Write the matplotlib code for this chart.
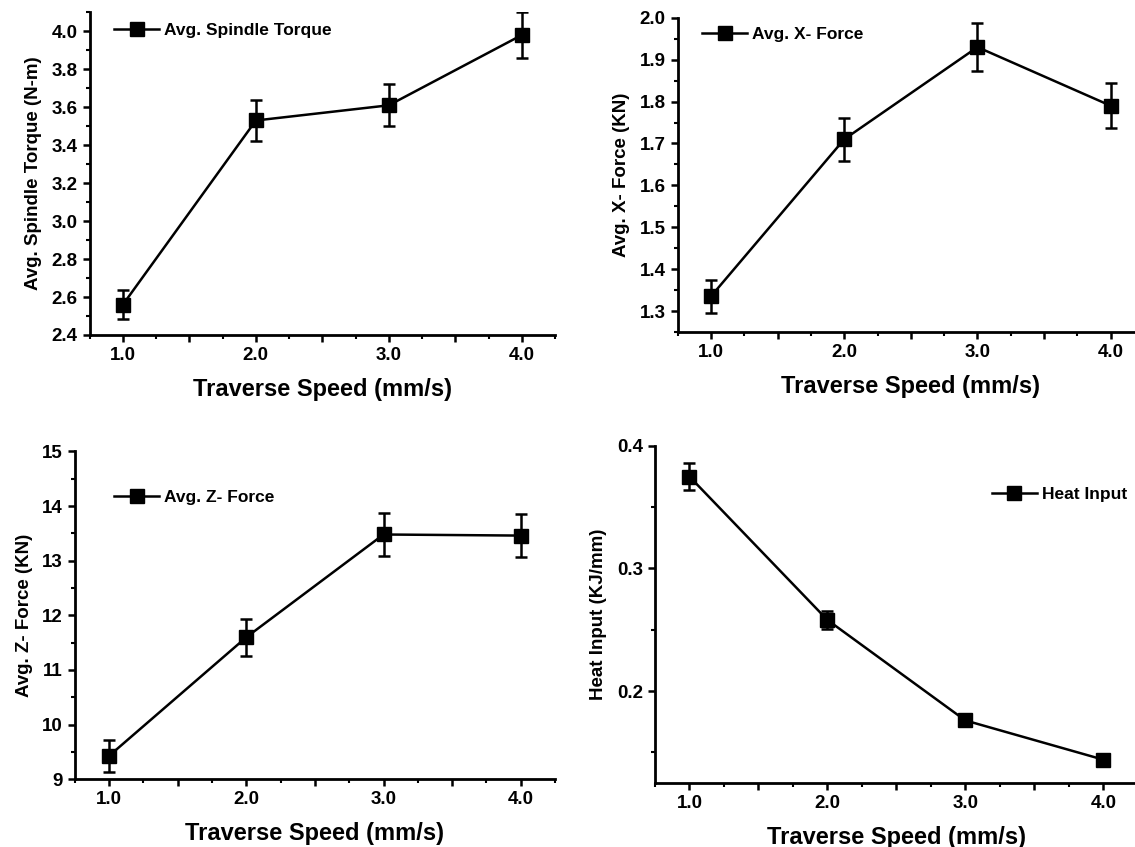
import numpy as np
import matplotlib
matplotlib.use("Agg")
import matplotlib.pyplot as plt
from matplotlib.ticker import MultipleLocator, FuncFormatter

plt.rcParams['font.family'] = ['Liberation Sans', 'DejaVu Sans']
plt.rcParams['font.weight'] = 'bold'

# traverse speed (mm/s)
speed = [1.0, 2.0, 3.0, 4.0]

torque = [2.56, 3.53, 3.61, 3.98]
torque_err = [0.078, 0.107, 0.11, 0.119]

xforce = [1.335, 1.71, 1.93, 1.79]
xforce_err = [0.039, 0.052, 0.057, 0.054]

zforce = [9.43, 11.6, 13.48, 13.46]
zforce_err = [0.29, 0.34, 0.40, 0.40]

heat = [0.375, 0.258, 0.176, 0.144]
heat_err = [0.0114, 0.0076, 0.003, 0.002]

fig = plt.figure(figsize=(11.35, 8.47), dpi=100)


def panel(rect, y, yerr, label, ylabel, ylim, ymajor, yfmt, legend_loc, legend_anchor):
    ax = fig.add_axes(rect)
    ax.errorbar(speed, y, yerr=yerr, color='black', lw=1.8, fmt='none',
                capsize=4.5, capthick=1.8, elinewidth=1.8)
    ax.plot(speed, y, color='black', lw=1.8, marker='s', ms=9.5, label=label)
    ax.set_xlim(0.75, 4.25)
    ax.set_ylim(*ylim)
    ax.spines['top'].set_visible(False)
    ax.spines['right'].set_visible(False)
    ax.spines['left'].set_linewidth(2)
    ax.spines['bottom'].set_linewidth(2)
    ax.xaxis.set_major_locator(MultipleLocator(0.5))
    ax.xaxis.set_minor_locator(MultipleLocator(0.25))
    ax.xaxis.set_major_formatter(FuncFormatter(
        lambda v, p: "%.1f" % v if abs(v - round(v)) < 1e-6 else ""))
    ax.yaxis.set_major_locator(MultipleLocator(ymajor))
    ax.yaxis.set_minor_locator(MultipleLocator(ymajor / 2))
    ax.yaxis.set_major_formatter(FuncFormatter(lambda v, p: yfmt % v))
    ax.tick_params(which='major', direction='out', length=5, width=1.8,
                   labelsize=13.5)
    ax.tick_params(which='minor', direction='out', length=3, width=1.5)
    for t in ax.get_xticklabels() + ax.get_yticklabels():
        t.set_fontweight('bold')
    ax.set_xlabel("Traverse Speed (mm/s)", fontsize=17, fontweight='bold', labelpad=10)
    ax.set_ylabel(ylabel, fontsize=13.5, fontweight='bold', labelpad=7)
    ax.legend(loc=legend_loc, bbox_to_anchor=legend_anchor, frameon=False,
              handlelength=2.6, handletextpad=0.3, borderaxespad=0.2,
              prop={'weight': 'bold', 'size': 12.5})
    return ax


panel([0.079, 0.6045, 0.41, 0.381], torque, torque_err, "Avg. Spindle Torque",
      "Avg. Spindle Torque (N-m)", (2.4, 4.1), 0.2, "%.1f", 'upper left', (0.03, 1.0))

panel([0.597, 0.608, 0.411, 0.371], xforce, xforce_err, "Avg. X- Force",
      "Avg. X- Force (KN)", (1.25, 2.0), 0.1, "%.1f", 'upper left', (0.03, 1.005))

panel([0.066, 0.080, 0.423, 0.387], zforce, zforce_err, "Avg. Z- Force",
      "Avg. Z- Force (KN)", (9, 15), 1, "%d", 'upper left', (0.06, 0.915))

panel([0.577, 0.0756, 0.4255, 0.398], heat, heat_err, "Heat Input",
      "Heat Input (KJ/mm)", (0.125, 0.4), 0.1, "%.1f", 'upper right', (1.0, 0.91))

fig.savefig("out.png", dpi=100)
